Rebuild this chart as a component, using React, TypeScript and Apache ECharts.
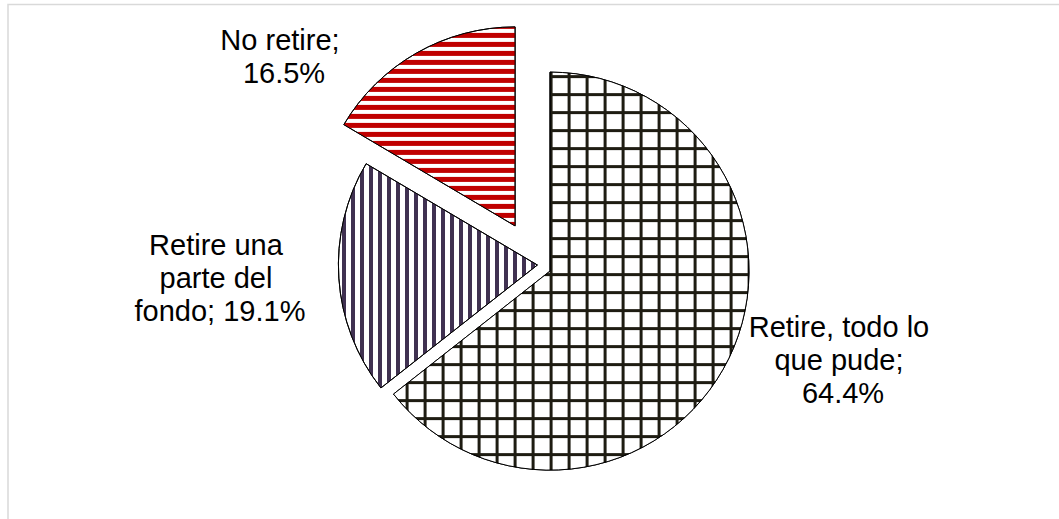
import React, { useEffect, useRef } from 'react';
import * as echarts from 'echarts';

// ---- data ----
const categories: string[] = ['Retire, todo lo que pude', 'Retire una parte del fondo', 'No retire'];
const values: number[] = [64.4, 19.1, 16.5];

// ---- presentation ----
const explode = [14, 0, 45];
const fills = ['#1e1c12', '#ffffff', '#ffffff'];
const decals = [
  { color: '#ffffff', dashArrayX: [14.5, 2.5], dashArrayY: [14.5, 2.5] },
  { color: '#403151', dashArrayX: [4, 4.5], dashArrayY: [1, 0] },
  { color: '#c00000', dashArrayX: [1, 0], dashArrayY: [4.5, 4] },
];
const labelWidths = [192, 182, 132];
const labelPos: [number, number][] = [[843, 360], [220, 278], [284, 56]];

export default function App() {
  const ref = useRef<HTMLDivElement>(null);
  useEffect(() => {
    if (!ref.current) return;
    const chart = echarts.init(ref.current, undefined, { renderer: 'svg' });
    const total = values.reduce((a, b) => a + b, 0);
    const series = values.map((_, k) => ({
      type: 'pie',
      center: [537.4, 265],
      radius: 199,
      startAngle: 90,
      clockwise: true,
      selectedMode: 'multiple',
      selectedOffset: explode[k],
      silent: true,
      emphasis: { disabled: true },
      avoidLabelOverlap: false,
      labelLine: { show: false },
      label: { show: false },
      z: 2,
      data: categories.map((name, i) =>
        i === k
          ? {
              name,
              value: values[i],
              selected: explode[k] > 0,
              itemStyle: {
                color: fills[i],
                borderColor: '#000000',
                borderWidth: 1,
                decal: { symbol: 'rect', symbolSize: 1, ...decals[i] },
              },
            }
          : {
              name,
              value: values[i],
              itemStyle: { color: 'rgba(0,0,0,0)', borderWidth: 0 },
            }
      ),
    }));
    const labels = categories.map((name, i) => ({
      type: 'text',
      silent: true,
      z: 10,
      x: labelPos[i][0],
      y: labelPos[i][1],
      style: {
        text: `${name}; ${((values[i] / total) * 100).toFixed(1)}%`,
        width: labelWidths[i],
        overflow: 'break',
        fontFamily: '"Liberation Sans", Arial, sans-serif',
        fontSize: 29,
        lineHeight: 33,
        fill: '#000000',
        align: 'center',
        verticalAlign: 'middle',
      },
    }));
    chart.setOption({
      animation: false,
      backgroundColor: '#ffffff',
      graphic: [
        {
          type: 'rect',
          silent: true,
          z: -10,
          shape: { x: 8, y: 4.5, width: 1300, height: 800 },
          style: { fill: 'none', stroke: '#d9d9d9', lineWidth: 1.5 },
        },
        ...labels,
      ],
      series,
    } as any);
    return () => chart.dispose();
  }, []);
  return (
    <div
      ref={ref}
      style={{ position: 'fixed', left: 0, top: 0, width: 1059, height: 519, background: '#fff' }}
    />
  );
}
